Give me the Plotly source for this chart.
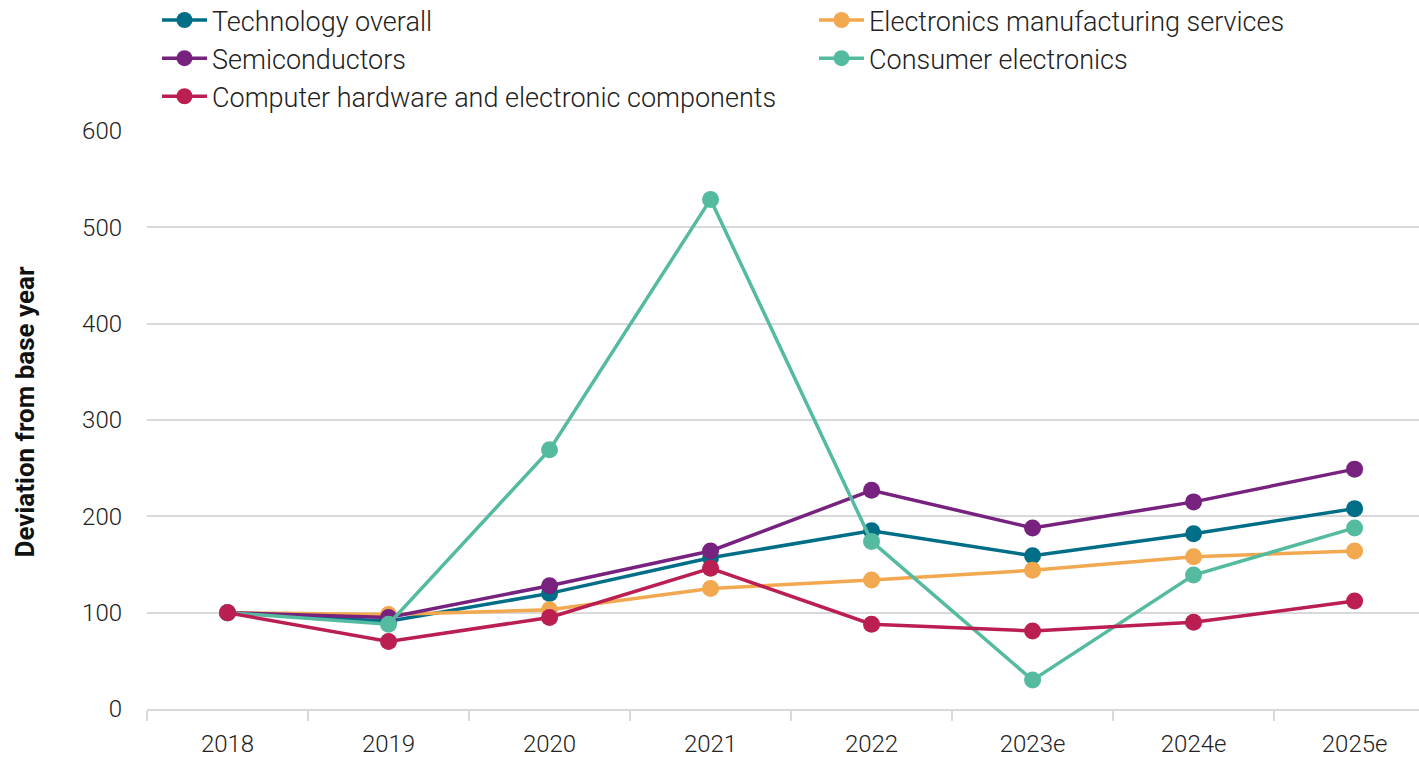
import plotly.graph_objects as go

years = ["2018", "2019", "2020", "2021", "2022", "2023e", "2024e", "2025e"]

tech_overall = [100, 91, 120, 157, 185, 159, 182, 208]
ems = [100, 98, 103, 125, 134, 144, 158, 164]
semiconductors = [100, 95, 128, 164, 227, 188, 215, 249]
consumer_electronics = [100, 88, 269, 529, 174, 30, 139, 188]
computer_hardware = [100, 70, 95, 146, 88, 81, 90, 112]

y_title = "Deviation from base year"

series = [
    ("Technology overall", tech_overall, "#006E87", "legend"),
    ("Electronics manufacturing services", ems, "#F2A84E", "legend2"),
    ("Semiconductors", semiconductors, "#77227F", "legend"),
    ("Consumer electronics", consumer_electronics, "#55BBA0", "legend2"),
    ("Computer hardware and electronic components", computer_hardware, "#BB1E50", "legend"),
]

fig = go.Figure()
for name, vals, color, leg in series:
    fig.add_trace(go.Scatter(
        x=years, y=vals, name=name, mode="lines+markers",
        line=dict(color=color, width=3.5),
        marker=dict(color=color, size=17),
        cliponaxis=False, legend=leg, legendgroup=name,
    ))

font_family = "Roboto"
leg_font = dict(family=font_family, size=27, color="#222222", weight=300)
common_leg = dict(
    orientation="v", xref="container", yref="paper",
    yanchor="top", xanchor="left", y=1.2336,
    font=leg_font, tracegroupgap=0, itemwidth=45,
    bgcolor="rgba(0,0,0,0)",
)
fig.update_layout(
    width=1419, height=757,
    paper_bgcolor="white", plot_bgcolor="white",
    margin=dict(l=147, r=0, t=131, b=48, autoexpand=False),
    font=dict(family=font_family, size=24, color="#222222", weight=300),
    showlegend=True,
    legend=dict(common_leg, x=157 / 1419),
    legend2=dict(common_leg, x=814 / 1419),
    xaxis=dict(
        type="category", range=[-0.5, 7.4],
        showgrid=False, showline=True, linecolor="#d9d9d9", linewidth=2,
        ticks="outside", tickson="boundaries", ticklen=10, tickcolor="#d9d9d9", tickwidth=2,
        tickfont=dict(size=24), ticklabelstandoff=12,
    ),
    yaxis=dict(
        range=[0, 600], dtick=100, tick0=0,
        showgrid=True, gridcolor="#d9d9d9", gridwidth=1.5,
        zeroline=False, showline=False,
        ticks="", ticklabelstandoff=24,
        tickfont=dict(size=24),
    ),
    annotations=[dict(
        text=y_title, textangle=-90, showarrow=False,
        xref="paper", yref="paper", x=(25 - 147) / 1272, y=0.5147,
        xanchor="center", yanchor="middle",
        font=dict(family=font_family, size=26, color="#111111", weight=700),
    )],
)

fig.write_html("out.html")
